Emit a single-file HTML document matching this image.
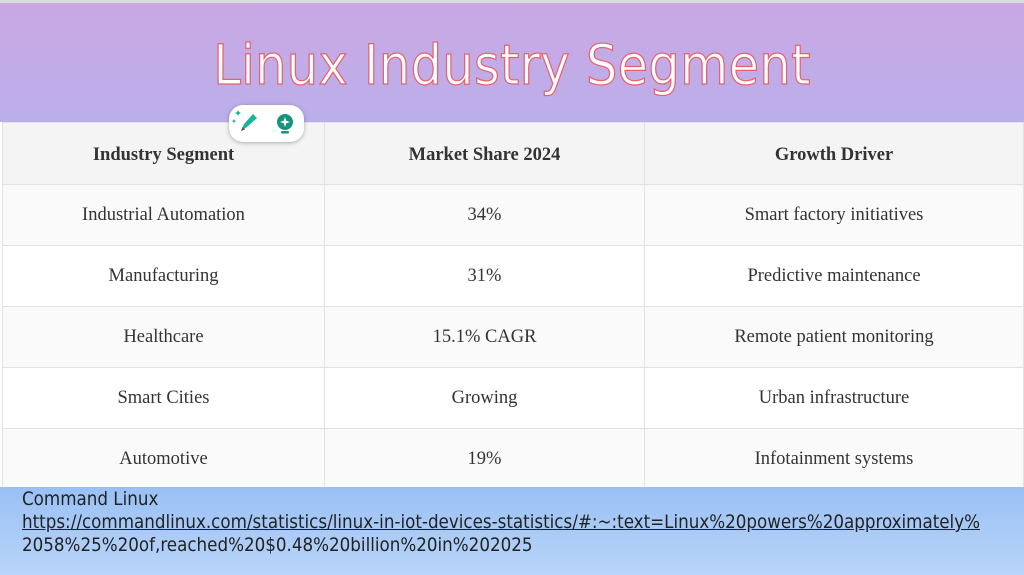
<!DOCTYPE html>
<html><head><meta charset="utf-8"><style>
body{margin:0;width:1024px;height:575px;overflow:hidden;position:relative;background:#fff;font-family:"Liberation Sans",sans-serif}
.top{position:absolute;left:0;top:0;width:1024px;height:3px;background:#dcdcdc}
.hdr{position:absolute;left:0;top:3px;width:1024px;height:119px;background:linear-gradient(#c9a8e4,#bbaee9)}
.title{position:absolute;left:0;width:1024px;top:33px;text-align:center;font-size:55px;color:#fff;-webkit-text-stroke:1.2px #e8606a;font-family:"DejaVu Sans Condensed","Liberation Sans",sans-serif;font-weight:300;letter-spacing:0.3px}
table{position:absolute;left:2px;top:122px;width:1022px;border-collapse:collapse;font-family:"Liberation Serif",serif;font-size:18.5px;color:#333}
td,th{border:1.5px solid #e2e2e2;text-align:center;height:60px;padding:0}
th{background:#f4f4f4;font-weight:bold;height:58px;padding-top:3px}
tr:nth-child(even) td{background:#fafafa}
tr:nth-child(odd) td{background:#fff}
.foot{position:absolute;left:0;top:487px;width:1024px;height:88px;background:linear-gradient(#99c0f5,#b9d5f8)}
.ft{position:absolute;left:22px;top:488px;font-size:18.6px;line-height:23px;color:#222;font-family:"DejaVu Sans Condensed","Liberation Sans",sans-serif}
.ft u{text-decoration:underline}
.pill{position:absolute;left:229px;top:105px;width:75px;height:37px;background:#fff;border-radius:14px;box-shadow:0 1px 4px rgba(0,0,0,.3)}
</style></head><body>
<div class="top"></div>
<div class="hdr"></div>
<div class="title">Linux Industry Segment</div>
<table>
<tr><th style="width:321px">Industry Segment</th><th style="width:319px">Market Share 2024</th><th>Growth Driver</th></tr>
<tr><td>Industrial Automation</td><td>34%</td><td>Smart factory initiatives</td></tr>
<tr><td>Manufacturing</td><td>31%</td><td>Predictive maintenance</td></tr>
<tr><td>Healthcare</td><td>15.1% CAGR</td><td>Remote patient monitoring</td></tr>
<tr><td>Smart Cities</td><td>Growing</td><td>Urban infrastructure</td></tr>
<tr><td>Automotive</td><td>19%</td><td>Infotainment systems</td></tr>
</table>
<div class="pill">
<svg width="75" height="37" viewBox="0 0 75 37">
<path d="M9 5 l1 2 2 1 -2 1 -1 2 -1 -2 -2 -1 2 -1z" fill="#1bb39a"/>
<path d="M5 14 l.7 1.4 1.4.7 -1.4.7 -.7 1.4 -.7 -1.4 -1.4 -.7 1.4 -.7z" fill="#1bb39a"/>
<path d="M12 26 l3 -7 9 -10 4 4 -10 9z" fill="#1bb39a"/>
<path d="M12 26 l1.5 -4 2.5 2.5z" fill="#555"/>
<circle cx="56" cy="17" r="8" fill="#17927e"/>
<path d="M56 12 l1.3 3.7 3.7 1.3 -3.7 1.3 -1.3 3.7 -1.3 -3.7 -3.7 -1.3 3.7 -1.3z" fill="#fff"/>
<rect x="52" y="26" width="8" height="2.5" rx="1" fill="#17927e"/>
</svg></div>
<div class="foot"></div>
<div class="ft">Command Linux<br><u>https://commandlinux.com/statistics/linux-in-iot-devices-statistics/#:~:text=Linux%20powers%20approximately%</u><br>2058%25%20of,reached%20$0.48%20billion%20in%202025</div>
</body></html>
